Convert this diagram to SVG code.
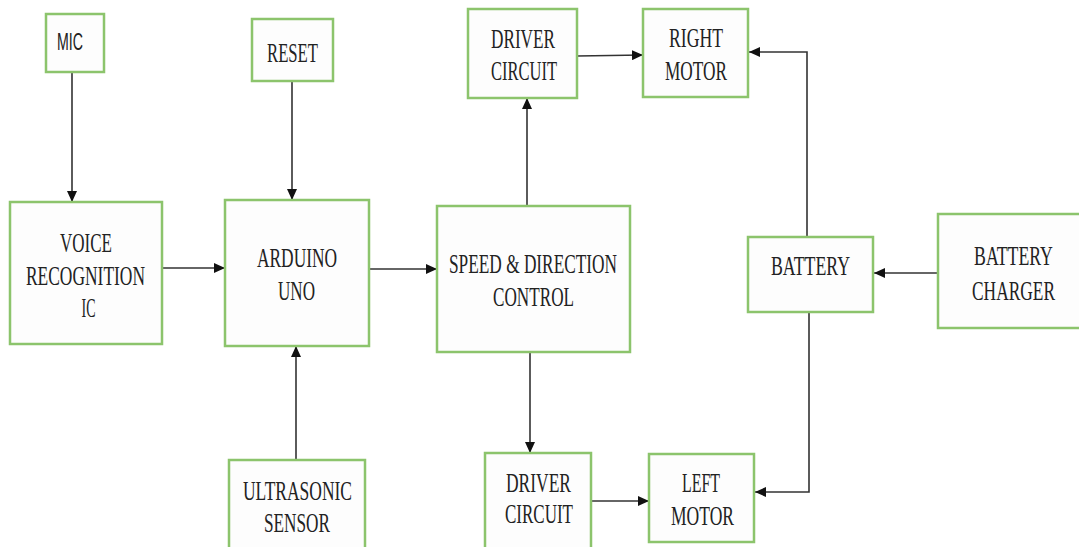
<svg xmlns="http://www.w3.org/2000/svg" width="1079" height="547" viewBox="0 0 1079 547">
<style>
.box{fill:#fdfdfd;stroke:#8cc46c;stroke-width:2.5}
.t{font-family:"Liberation Serif","Times New Roman",serif;font-size:28px;fill:#222;text-anchor:middle}
.s{font-family:"Liberation Sans",Arial,sans-serif;font-size:23px;fill:#222;text-anchor:middle}
.c{fill:none;stroke:#333;stroke-width:1.6}
</style>
<defs>
<marker id="ah" markerUnits="userSpaceOnUse" markerWidth="11" markerHeight="10" refX="11" refY="5" orient="auto">
<path d="M0,0 L11,5 L0,10 z" fill="#111"/>
</marker>
</defs>
<rect width="1079" height="547" fill="#ffffff"/>
<g id="connectors">
<line class="c" x1="72" y1="73" x2="72" y2="202" marker-end="url(#ah)"/>
<line class="c" x1="292" y1="81" x2="292" y2="200" marker-end="url(#ah)"/>
<line class="c" x1="163" y1="268" x2="225" y2="268" marker-end="url(#ah)"/>
<line class="c" x1="369" y1="269" x2="437" y2="269" marker-end="url(#ah)"/>
<line class="c" x1="527" y1="206" x2="527" y2="98" marker-end="url(#ah)"/>
<line class="c" x1="577" y1="56" x2="643" y2="55" marker-end="url(#ah)"/>
<polyline class="c" points="807,237 807,52 749,52" marker-end="url(#ah)"/>
<line class="c" x1="938" y1="273" x2="874" y2="273" marker-end="url(#ah)"/>
<polyline class="c" points="809,312 809,492 755,492" marker-end="url(#ah)"/>
<line class="c" x1="530" y1="352" x2="530" y2="453" marker-end="url(#ah)"/>
<line class="c" x1="591" y1="501" x2="649" y2="501" marker-end="url(#ah)"/>
<line class="c" x1="296" y1="460" x2="296" y2="346" marker-end="url(#ah)"/>
</g>
<g id="mic">
<rect class="box" x="46" y="14" width="58" height="58"/>
<text class="s" x="70" y="50" textLength="26" lengthAdjust="spacingAndGlyphs">MIC</text>
</g>
<g id="reset">
<rect class="box" x="252" y="19" width="81" height="62"/>
<text class="t" x="292.5" y="62" textLength="51" lengthAdjust="spacingAndGlyphs">RESET</text>
</g>
<g id="voice">
<rect class="box" x="10" y="202" width="152" height="142"/>
<text class="t" x="86" y="252" textLength="52" lengthAdjust="spacingAndGlyphs">VOICE</text>
<text class="t" x="85.5" y="285" textLength="119" lengthAdjust="spacingAndGlyphs">RECOGNITION</text>
<text class="t" x="88.5" y="317" textLength="14" lengthAdjust="spacingAndGlyphs">IC</text>
</g>
<g id="arduino">
<rect class="box" x="225" y="200" width="144" height="146"/>
<text class="t" x="297" y="267" textLength="80" lengthAdjust="spacingAndGlyphs">ARDUINO</text>
<text class="t" x="296.5" y="300" textLength="37" lengthAdjust="spacingAndGlyphs">UNO</text>
</g>
<g id="speed">
<rect class="box" x="437" y="206" width="193" height="146"/>
<text class="t" x="533" y="273" textLength="168" lengthAdjust="spacingAndGlyphs">SPEED &amp; DIRECTION</text>
<text class="t" x="533.5" y="306" textLength="81" lengthAdjust="spacingAndGlyphs">CONTROL</text>
</g>
<g id="driver-top">
<rect class="box" x="468" y="9" width="109" height="89"/>
<text class="t" x="523" y="48" textLength="64" lengthAdjust="spacingAndGlyphs">DRIVER</text>
<text class="t" x="524" y="80" textLength="66" lengthAdjust="spacingAndGlyphs">CIRCUIT</text>
</g>
<g id="right-motor">
<rect class="box" x="643" y="9" width="105" height="88"/>
<text class="t" x="696" y="47" textLength="54" lengthAdjust="spacingAndGlyphs">RIGHT</text>
<text class="t" x="696" y="80" textLength="62" lengthAdjust="spacingAndGlyphs">MOTOR</text>
</g>
<g id="battery">
<rect class="box" x="748" y="237" width="125" height="75"/>
<text class="t" x="810.5" y="275" textLength="79" lengthAdjust="spacingAndGlyphs">BATTERY</text>
</g>
<g id="battery-charger">
<rect class="box" x="938" y="214" width="145" height="114"/>
<text class="t" transform="translate(1013.5,265) scale(0.68,1)" x="0" y="0" textLength="116" lengthAdjust="spacingAndGlyphs">BATTERY</text>
<text class="t" transform="translate(1013.5,300) scale(0.68,1)" x="0" y="0" textLength="122" lengthAdjust="spacingAndGlyphs">CHARGER</text>
</g>
<g id="ultrasonic">
<rect class="box" x="229" y="460" width="136" height="92"/>
<text class="t" x="297.5" y="500" textLength="109" lengthAdjust="spacingAndGlyphs">ULTRASONIC</text>
<text class="t" x="297" y="532" textLength="66" lengthAdjust="spacingAndGlyphs">SENSOR</text>
</g>
<g id="driver-bottom">
<rect class="box" x="485" y="453" width="106" height="99"/>
<text class="t" x="538.5" y="492" textLength="65" lengthAdjust="spacingAndGlyphs">DRIVER</text>
<text class="t" x="539" y="523" textLength="68" lengthAdjust="spacingAndGlyphs">CIRCUIT</text>
</g>
<g id="left-motor">
<rect class="box" x="649" y="454" width="105" height="88"/>
<text class="t" x="701" y="492" textLength="38" lengthAdjust="spacingAndGlyphs">LEFT</text>
<text class="t" x="702.5" y="525" textLength="63" lengthAdjust="spacingAndGlyphs">MOTOR</text>
</g>
</svg>
